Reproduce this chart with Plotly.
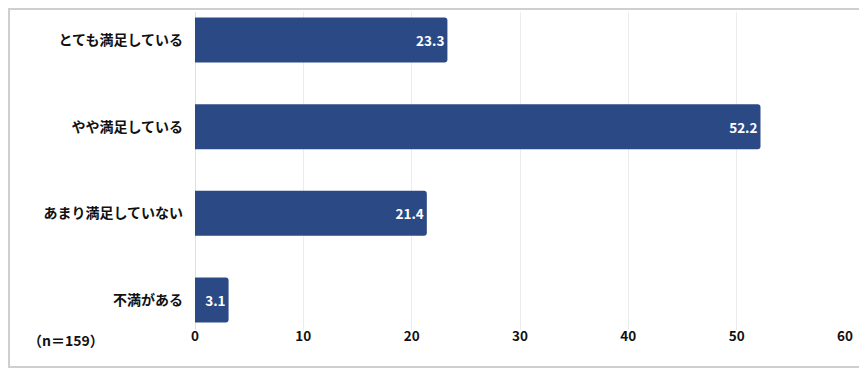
import plotly.graph_objects as go

categories = ["とても満足している", "やや満足している", "あまり満足していない", "不満がある"]
values = [23.3, 52.2, 21.4, 3.1]
x_ticks = [0, 10, 20, 30, 40, 50, 60]
note = "（n＝159）"

FONT = "Noto Sans CJK JP"
BAR = "#2B4A85"

# page has an 8px body margin; figure sized to fit the viewport
OFF = 8
W, H = 867 - OFF, 374 - OFF
ml, mr, mt, mb = 195 - OFF, 22, 12 - OFF, 44
pw, ph = W - ml - mr, H - mt - mb

def px_x(p):
    return (p - OFF - ml) / pw

def px_y(p):
    return (H - mb - (p - OFF)) / ph

fig = go.Figure(go.Bar(
    y=categories, x=values, orientation="h",
    marker=dict(color=BAR, line=dict(width=0), cornerradius=3),
    width=0.52,
    text=[f"{v:.1f}" for v in values],
    textposition="inside", insidetextanchor="end",
    textfont=dict(family=FONT, size=13.5, color="white", weight="bold"),
    cliponaxis=False,
))

fig.update_layout(
    width=W, height=H,
    margin=dict(l=ml, r=mr, t=mt, b=mb),
    paper_bgcolor="white", plot_bgcolor="white",
    showlegend=False,
    font=dict(family=FONT, size=13, color="#111111"),
    xaxis=dict(range=[0, 60], tickvals=x_ticks, showgrid=True, gridcolor="#ececec",
               gridwidth=1, zeroline=True, zerolinecolor="#e0e0e0", zerolinewidth=1,
               showline=False, ticks="", tickfont=dict(family=FONT, size=13.5, weight="bold"),
               ticklabelstandoff=-4),
    yaxis=dict(range=[3.346, -0.323], showgrid=False, zeroline=False, showline=False,
               ticks="", ticklabelstandoff=11,
               tickfont=dict(family=FONT, size=14, weight="bold")),
    shapes=[dict(type="rect", xref="paper", yref="paper",
                 x0=px_x(9), x1=px_x(860), y0=px_y(367), y1=px_y(9),
                 line=dict(color="#cfcfcf", width=2), fillcolor="rgba(0,0,0,0)", layer="below")],
    annotations=[dict(text=note, xref="paper", yref="paper", x=px_x(66), y=px_y(340),
                      showarrow=False, xanchor="center", yanchor="middle",
                      font=dict(family=FONT, size=14, weight="bold"))],
)

fig.write_html("out.html")
